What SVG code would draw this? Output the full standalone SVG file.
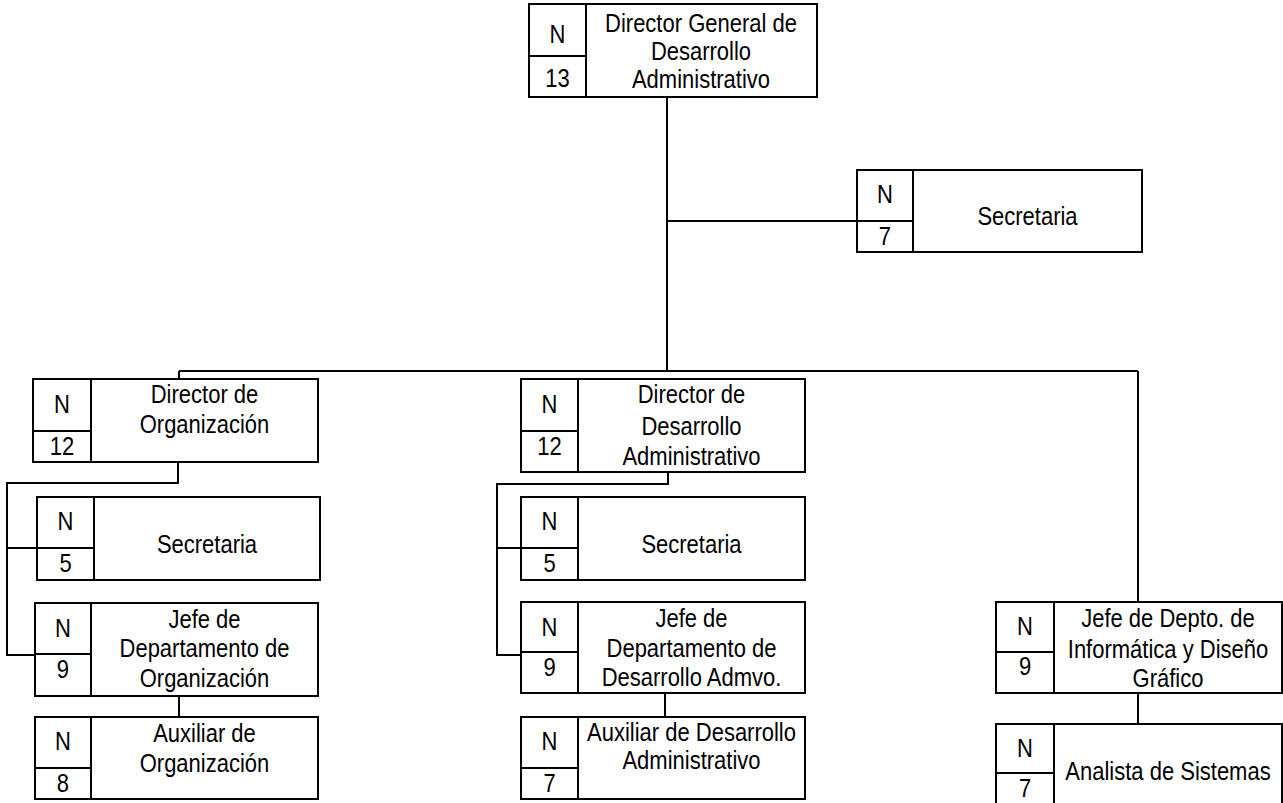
<svg xmlns="http://www.w3.org/2000/svg" width="1283" height="803" viewBox="0 0 1283 803">
<style>
.box{fill:#fff;stroke:#000;stroke-width:2}
.div{stroke:#000;stroke-width:2;fill:none}
.con{stroke:#000;stroke-width:2;fill:none}
text{font-family:"Liberation Sans",Arial,sans-serif;font-size:22px;fill:#000;text-anchor:middle;transform-box:fill-box;transform-origin:50% 81%;transform:scaleY(1.14)}
</style>
<rect width="1283" height="803" fill="#fff"/>
<g id="connectors">
<path class="con" d="M667 97V371M667 221H857M179 371H1138M179 371V379M1138 371V602"/>
<path class="con" d="M178 462V483H7V655H35M7 548H37M179 696V717"/>
<path class="con" d="M668 472V484H497V655H521M497 548H521M665 693V717"/>
<path class="con" d="M1138 693V724"/>
</g>
<g id="n-dg">
<rect class="box" x="529" y="4" width="288" height="93"/>
<path class="div" d="M586 4V97M529 56H586"/>
<text x="557.5" y="43">N</text><text x="557.5" y="87">13</text>
<text x="701" y="32">Director General de</text><text x="701" y="60">Desarrollo</text><text x="701" y="88">Administrativo</text>
</g>
<g id="n-sec-top">
<rect class="box" x="857" y="170" width="285" height="82"/>
<path class="div" d="M913 170V252M857 221H913"/>
<text x="885" y="203">N</text><text x="885" y="245">7</text>
<text x="1027.5" y="225">Secretaria</text>
</g>
<g id="n-dorg">
<rect class="box" x="33" y="379" width="285" height="83"/>
<path class="div" d="M91 379V462M33 431H91"/>
<text x="62" y="413">N</text><text x="62" y="455">12</text>
<text x="204.5" y="403">Director de</text><text x="204.5" y="433">Organización</text>
</g>
<g id="n-sec-l">
<rect class="box" x="37" y="497" width="283" height="83"/>
<path class="div" d="M94 497V580M37 548H94"/>
<text x="65.5" y="530">N</text><text x="65.5" y="572">5</text>
<text x="207" y="553">Secretaria</text>
</g>
<g id="n-jorg">
<rect class="box" x="35" y="603" width="283" height="93"/>
<path class="div" d="M91 603V696M35 654H91"/>
<text x="63" y="637">N</text><text x="63" y="678">9</text>
<text x="204.5" y="628">Jefe de</text><text x="204.5" y="657">Departamento de</text><text x="204.5" y="687">Organización</text>
</g>
<g id="n-aorg">
<rect class="box" x="35" y="717" width="283" height="82"/>
<path class="div" d="M91 717V799M35 768H91"/>
<text x="63" y="750">N</text><text x="63" y="792">8</text>
<text x="204.5" y="742">Auxiliar de</text><text x="204.5" y="772">Organización</text>
</g>
<g id="n-dda">
<rect class="box" x="521" y="379" width="284" height="93"/>
<path class="div" d="M578 379V472M521 431H578"/>
<text x="549.5" y="413">N</text><text x="549.5" y="455">12</text>
<text x="691.5" y="403">Director de</text><text x="691.5" y="435">Desarrollo</text><text x="691.5" y="465">Administrativo</text>
</g>
<g id="n-sec-m">
<rect class="box" x="521" y="497" width="284" height="83"/>
<path class="div" d="M578 497V580M521 548H578"/>
<text x="549.5" y="530">N</text><text x="549.5" y="572">5</text>
<text x="691.5" y="553">Secretaria</text>
</g>
<g id="n-jda">
<rect class="box" x="521" y="602" width="284" height="91"/>
<path class="div" d="M578 602V693M521 652H578"/>
<text x="549.5" y="636">N</text><text x="549.5" y="676">9</text>
<text x="691.5" y="627">Jefe de</text><text x="691.5" y="657">Departamento de</text><text x="691.5" y="686">Desarrollo Admvo.</text>
</g>
<g id="n-ada">
<rect class="box" x="521" y="717" width="284" height="82"/>
<path class="div" d="M578 717V799M521 768H578"/>
<text x="549.5" y="750">N</text><text x="549.5" y="792">7</text>
<text x="691.5" y="741">Auxiliar de Desarrollo</text><text x="691.5" y="769">Administrativo</text>
</g>
<g id="n-jinf">
<rect class="box" x="996" y="602" width="286" height="91"/>
<path class="div" d="M1054 602V693M996 652H1054"/>
<text x="1025" y="635">N</text><text x="1025" y="675">9</text>
<text x="1168" y="627">Jefe de Depto. de</text><text x="1168" y="658">Informática y Diseño</text><text x="1168" y="687">Gráfico</text>
</g>
<g id="n-anal">
<rect class="box" x="996" y="724" width="286" height="84"/>
<path class="div" d="M1054 724V808M996 773H1054"/>
<text x="1025" y="757">N</text><text x="1025" y="797">7</text>
<text x="1168" y="780">Analista de Sistemas</text>
</g>
</svg>
